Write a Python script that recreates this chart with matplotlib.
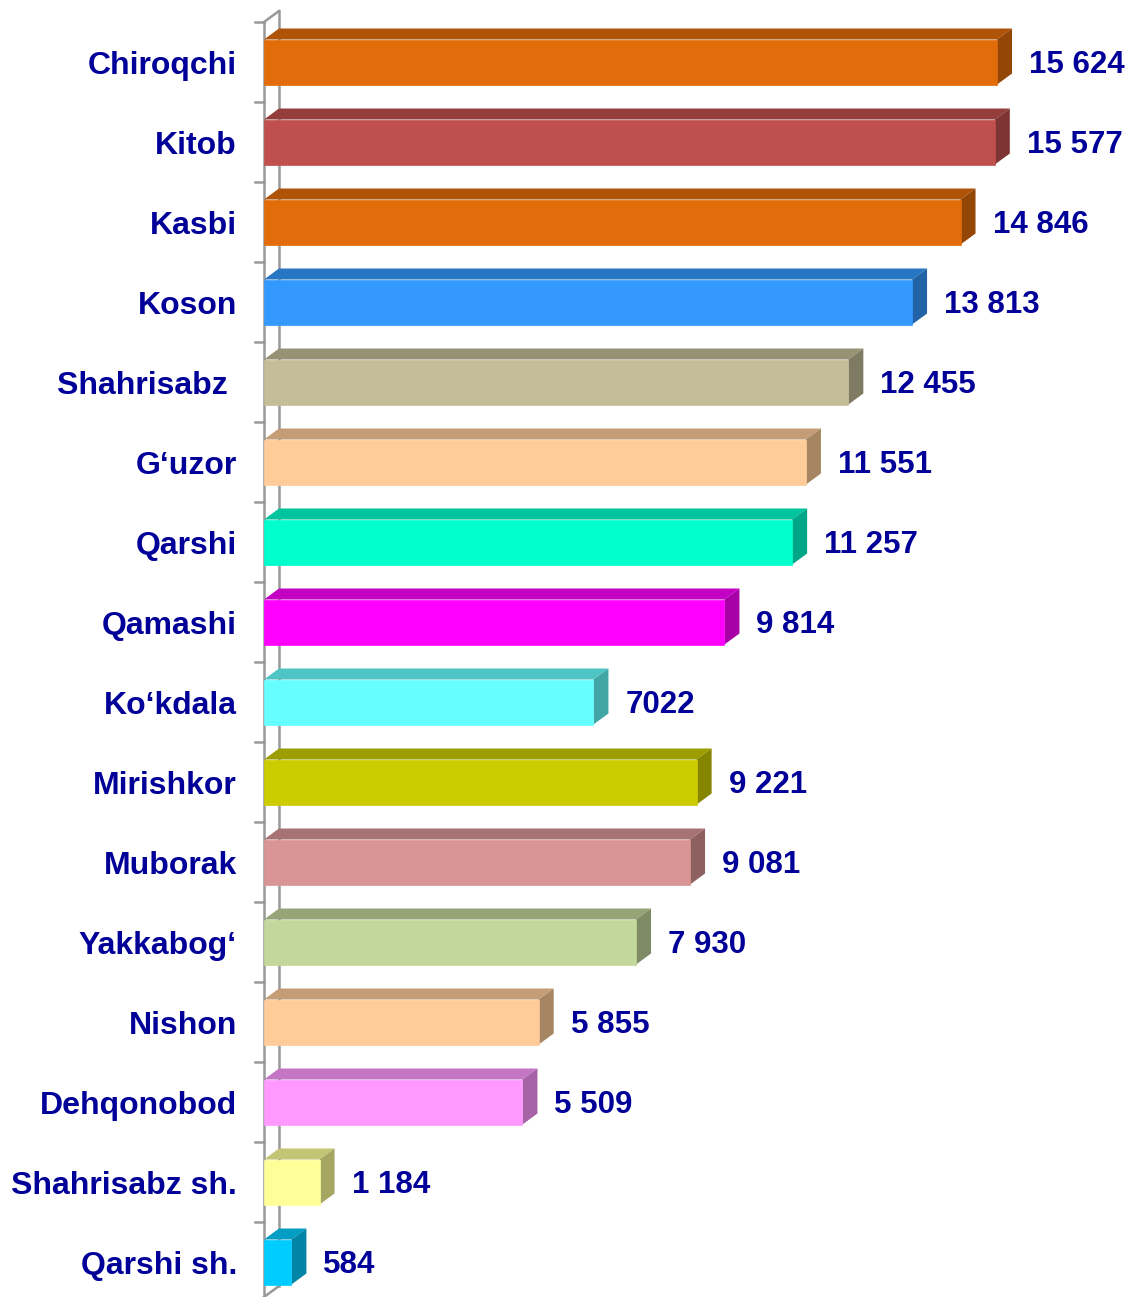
import matplotlib
matplotlib.use('Agg')
import matplotlib.pyplot as plt
import matplotlib.colors as mcolors
from matplotlib.patches import Polygon
import numpy as np

districts = ['Chiroqchi', 'Kitob', 'Kasbi', 'Koson', 'Shahrisabz ', 'G\u2018uzor', 'Qarshi',
             'Qamashi', 'Ko\u2018kdala', 'Mirishkor', 'Muborak', 'Yakkabog\u2018', 'Nishon',
             'Dehqonobod', 'Shahrisabz sh.', 'Qarshi sh.']
values = [15624, 15577, 14846, 13813, 12455, 11551, 11257, 9814, 7022, 9221, 9081, 7930,
          5855, 5509, 1184, 584]
value_labels = ['15 624', '15 577', '14 846', '13 813', '12 455', '11 551', '11 257', '9 814',
                '7022', '9 221', '9 081', '7 930', '5 855', '5 509', '1 184', '584']
bar_colors = ['#E36C0A', '#C0504D', '#E36C0A', '#3399FF', '#C4BD97', '#FFCC99', '#00FFCC',
              '#FF00FF', '#66FFFF', '#CCCC00', '#D99594', '#C3D69B', '#FFCC99', '#FF99FF',
              '#FFFF99', '#00CCFF']

W, H, DPI = 1126, 1297, 100
txt_color = '#000099'
plt.rcParams['font.family'] = ['Liberation Sans', 'DejaVu Sans']

fig = plt.figure(figsize=(W / DPI, H / DPI), dpi=DPI)
ax_left, ax_top = 264, 22
ax = fig.add_axes([ax_left / W, 0, (W - ax_left) / W, (H - ax_top) / H])
xmax = 18373
ax.set_xlim(0, xmax)
ax.set_ylim((H - ax_top - 40) / 80, -0.5)
ax.axis('off')

# pixel -> data helpers
px_x = xmax / (W - ax_left)
px_y = 1 / 80.0
dx, dy = 15 * px_x, 11 * px_y
half = 22.5 * px_y


def shade(c, f):
    r, g, b = mcolors.to_rgb(c)
    return (r * f, g * f, b * f)


# back wall / axis lines
n = len(districts)
ybot = (H - ax_top - 40) / 80
wall = dict(color='#999999', lw=1.8, clip_on=False, zorder=1)
ax.plot([dx, dx], [-0.5 - dy, ybot - dy], **wall)
ax.plot([0, dx], [-0.5, -0.5 - dy], **wall)
ax.plot([0, dx], [ybot, ybot - dy], **wall)
ax.plot([0, 0], [-0.5, ybot], **wall)
for k in range(n + 1):
    ax.plot([-9 * px_x, 0], [k - 0.5, k - 0.5], **wall)

for i, (v, c) in enumerate(zip(values, bar_colors)):
    y0, y1 = i - half, i + half
    front = Polygon([(0, y0), (v, y0), (v, y1), (0, y1)], closed=True,
                    facecolor=c, edgecolor=shade(c, 1.0), lw=0.5, zorder=3, clip_on=False)
    top = Polygon([(0, y0), (v, y0), (v + dx, y0 - dy), (dx, y0 - dy)], closed=True,
                  facecolor=shade(c, 0.77), edgecolor='none', zorder=3, clip_on=False)
    side = Polygon([(v, y0), (v + dx, y0 - dy), (v + dx, y1 - dy), (v, y1)], closed=True,
                   facecolor=shade(c, 0.65), edgecolor='none', zorder=3, clip_on=False)
    for p in (top, side, front):
        ax.add_patch(p)
    ax.text(v + dx + 17 * px_x, i + 3 * px_y, value_labels[i], ha='left', va='center',
            fontsize=22.5, fontweight='bold', color=txt_color, clip_on=False)
    ax.text(-27 * px_x, i + 4 * px_y, districts[i], ha='right', va='center',
            fontsize=23, fontweight='bold', color=txt_color, clip_on=False)

fig.savefig('out.png', dpi=DPI)
